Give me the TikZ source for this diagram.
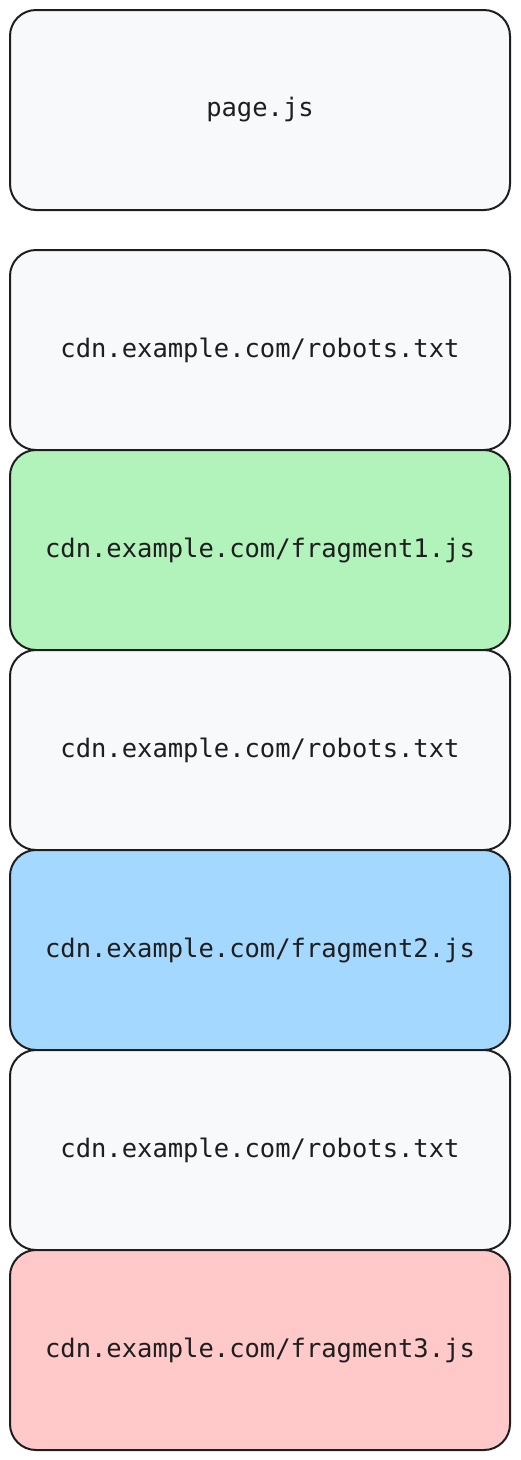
\documentclass[tikz,border=0pt]{standalone}
\usepackage{fontspec}
\setmonofont{DejaVu Sans Mono}
\usepackage{tikz}
\usetikzlibrary{positioning}
\definecolor{boxline}{HTML}{1E1E1E}
\definecolor{boxgray}{HTML}{F8F9FA}
\definecolor{boxgreen}{HTML}{B2F2BB}
\definecolor{boxblue}{HTML}{A5D8FF}
\definecolor{boxred}{HTML}{FFC9C9}
\begin{document}
\begin{tikzpicture}[
    x=1pt,y=-1pt,
    res/.style    = {rectangle, draw=boxline, fill=boxgray, line width=2pt,
                     rounded corners=26pt, minimum width=500pt,
                     minimum height=200pt, inner sep=0pt,
                     font=\ttfamily\fontsize{25.5}{30}\selectfont, text=boxline},
    frag1/.style  = {res, fill=boxgreen},
    frag2/.style  = {res, fill=boxblue},
    frag3/.style  = {res, fill=boxred},
  ]

  % Cadre de l'image
  \useasboundingbox (0,0) rectangle (520,1460);

  % Script de la page
  \node[res] (page) at (260,110) {page.js};

  % Requetes vers le CDN, empilees
  \node[res]   (rob1)  at (260,350)  {cdn.example.com/robots.txt};
  \node[frag1] (frg1)  at (260,550)  {cdn.example.com/fragment1.js};
  \node[res]   (rob2)  at (260,750)  {cdn.example.com/robots.txt};
  \node[frag2] (frg2)  at (260,950)  {cdn.example.com/fragment2.js};
  \node[res]   (rob3)  at (260,1150) {cdn.example.com/robots.txt};
  \node[frag3] (frg3)  at (260,1350) {cdn.example.com/fragment3.js};

\end{tikzpicture}
\end{document}
